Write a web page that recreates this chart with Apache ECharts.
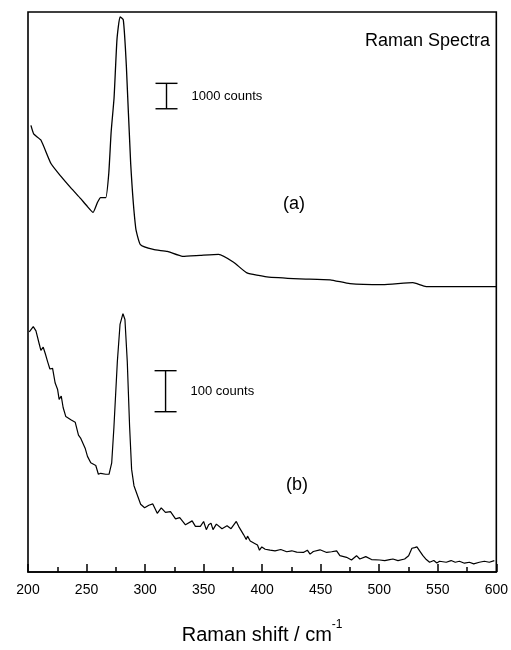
<!DOCTYPE html>
<html><head><meta charset="utf-8">
<script src="https://cdn.jsdelivr.net/npm/echarts@6/dist/echarts.min.js"></script>
<style>html,body{margin:0;padding:0;background:#fff}#c{width:511px;height:650px}</style>
</head><body><div id="c"></div>
<script>
// Raman shift (cm^-1) and relative intensity (arbitrary, offset) for spectrum (a)
const shiftA = [202.5,205,211,219.6,228,236.6,245,250,255.6,259.3,262,266.4,269,271,273.5,276,278.6,281.4,284,287.7,292,296,307,319,332,347,362.7,375.6,387,404,432,458,475,503,528.7,540,574,600];
const intenA = [457,448,442,418,405,393,382,375,368,378,383,383,408,450,485,545,568,565,518,418,352,335,330,328,323,324,325,317,306,302,300,299,295,294,296,292,292,292];
// spectrum (b)
const shiftB = [201.1,204.5,206.8,209.6,211,213,214.8,216.8,218.7,221,223.2,225.3,226.6,228.4,230,232.3,236.6,240.3,243.1,245.1,246.5,248.8,250.8,253.6,257.9,260.1,262.1,266.4,269.2,271.5,273.4,276.3,278.6,281.1,282.8,284.8,286.8,288.5,290.5,296.2,299.6,303.2,306.6,310.4,313.8,317.4,321.7,326,329.6,334.5,340.2,343,347.2,350,352.3,354.3,356.3,358,360.9,365.7,370,373.4,377.9,379.9,381.3,384.1,386.4,387.5,389.8,394,396,397.7,399.7,402.6,406.8,411,415.9,421,425.3,429.5,435.2,438.6,440.9,443.7,449.4,455.1,459.3,463.6,466.4,472.1,476.3,480.6,483.4,488.5,493.4,500.4,504.7,508.9,511.7,516,521.7,525.1,527.9,530.2,532.2,534.5,537.3,540.2,543,546.6,549.2,551.5,557.2,561.4,564.9,568.5,572.8,577,580.7,585.5,589.8,594,598.3];
const intenB = [245.7,251,246.7,233.3,226.7,230,223.3,215,207.7,208.3,193.3,186.7,176.7,180,168.3,159,155.7,153.3,140,136.7,138.3,126.7,118.3,111.7,109,100,101,100,100,111.7,148.3,215,253.3,264.3,258.3,215,148.3,105,88.3,69.3,65.7,68.3,69.7,60,65.7,61,61.7,54.3,55.7,48.3,52.3,46.7,46.7,51.7,43.3,48.3,50,43.3,49,44.3,47.3,44.3,51.7,46.7,48.3,38.3,33.3,36.7,31.7,29,27.7,22.3,25.7,23.3,22.3,21.7,23,20.7,21.7,20.3,20,22.3,18.3,21,22.7,20,20.7,21.7,16.7,15,12.3,16.7,13.3,15.7,12.7,12.3,11.7,12.7,13.3,11.7,13.3,16.7,24.3,25,25.7,21.7,16.7,12.7,10,11.7,9.3,11,10,11.7,10,11,9,10,8.3,10,11,10,11.7];
// scale bars: [shift, bottom, top] and labels
const scaleBars = [[318.3,474,500],[317.5,164,206]];
const scaleLabels = ['1000 counts','100 counts'];
const xTicks = [200,250,300,350,400,450,500,550,600];

const chart = echarts.init(document.getElementById('c'));
const FONT = 'Liberation Sans, Arial, sans-serif';
chart.setOption({
  animation:false,
  backgroundColor:'#fff',
  grid:{left:28,right:14,top:12,bottom:65,show:true,borderColor:'#000',borderWidth:1.6,backgroundColor:'transparent'},
  xAxis:{type:'value',min:xTicks[0],max:xTicks[xTicks.length-1],interval:50,
    axisLine:{show:true,lineStyle:{color:'#000',width:1.6}},
    axisTick:{show:true,inside:true,length:8,lineStyle:{color:'#000',width:1.5}},
    minorTick:{show:true,splitNumber:2,length:5,lineStyle:{color:'#000',width:1.5}},
    splitLine:{show:false},
    axisLabel:{color:'#000',fontSize:14,fontFamily:FONT,margin:11},
    name:'{a|Raman shift / cm}{s|-1}',nameLocation:'middle',nameGap:47,
    nameTextStyle:{color:'#000',fontFamily:FONT,rich:{a:{fontSize:20,fontFamily:FONT,color:'#000',verticalAlign:'bottom'},s:{fontSize:12,fontFamily:FONT,color:'#000',verticalAlign:'top',padding:[0,0,14,0]}}}
  },
  yAxis:{type:'value',min:0,max:573,show:false,splitLine:{show:false}},
  series:[
    {type:'line',data:shiftA.map((x,i)=>[x,intenA[i]]),showSymbol:false,lineStyle:{color:'#000',width:1.3},smooth:0.15},
    {type:'line',data:shiftB.map((x,i)=>[x,intenB[i]]),showSymbol:false,lineStyle:{color:'#000',width:1.2}},
    {type:'custom',data:scaleBars,renderItem:(params,api)=>{
      const b=api.coord([api.value(0),api.value(1)]);
      const t=api.coord([api.value(0),api.value(2)]);
      const w=11;
      const st={stroke:'#000',lineWidth:1.4};
      return {type:'group',children:[
        {type:'line',shape:{x1:b[0],y1:b[1],x2:t[0],y2:t[1]},style:st},
        {type:'line',shape:{x1:b[0]-w,y1:b[1],x2:b[0]+w,y2:b[1]},style:st},
        {type:'line',shape:{x1:t[0]-w,y1:t[1],x2:t[0]+w,y2:t[1]},style:st},
        {type:'text',style:{text:scaleLabels[params.dataIndex],x:b[0]+25,y:(b[1]+t[1])/2,fill:'#000',font:'13px '+FONT,verticalAlign:'middle'}}
      ]};
    }}
  ],
  graphic:[
    {type:'text',right:21,top:32,style:{text:'Raman Spectra',fill:'#000',font:'18px '+FONT}},
    {type:'text',left:283,top:195,style:{text:'(a)',fill:'#000',font:'18px '+FONT}},
    {type:'text',left:286,top:476,style:{text:'(b)',fill:'#000',font:'18px '+FONT}}
  ]
});
</script></body></html>
